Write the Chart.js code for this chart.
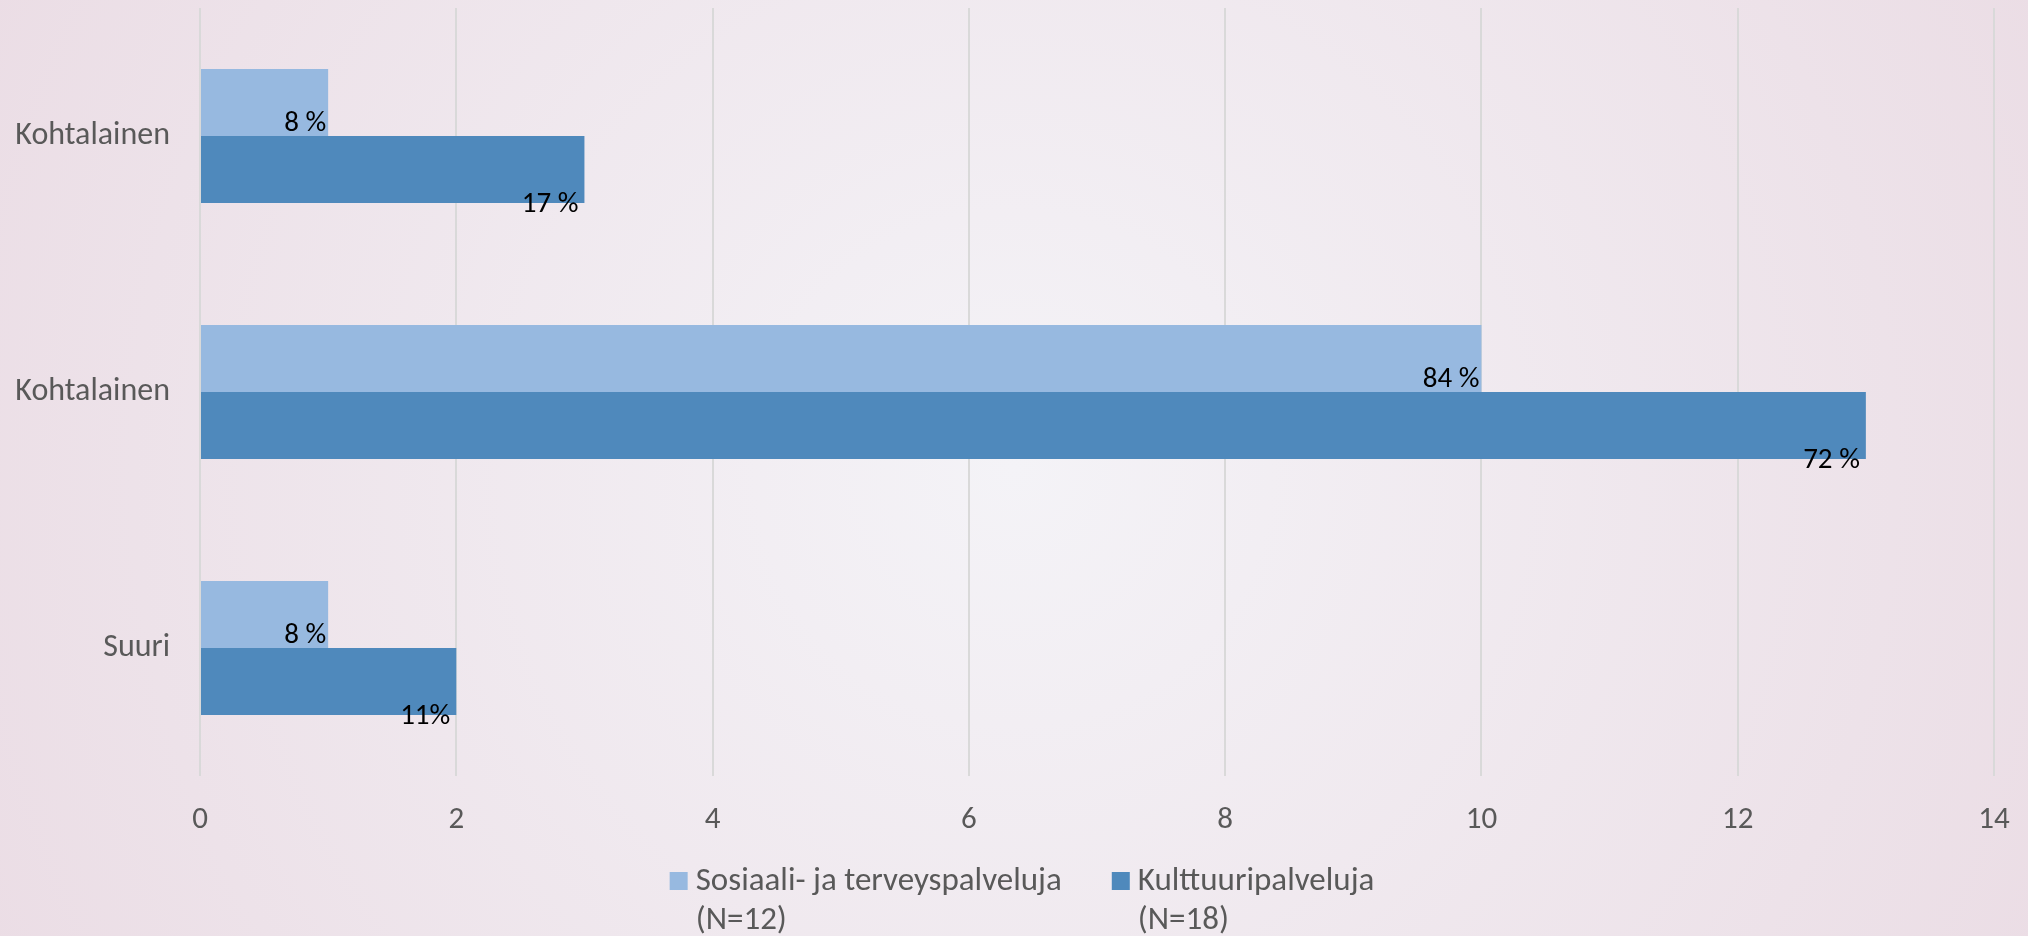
<!DOCTYPE html>
<html>
<head>
<meta charset="utf-8">
<style>
  html, body { margin: 0; padding: 0; background: #efe6ec; }
  #wrap { width: 2028px; height: 936px; position: relative; }
  canvas { display: block; }
</style>
<script src="https://cdn.jsdelivr.net/npm/chart.js@4/dist/chart.umd.min.js"></script>
</head>
<body>
<div id="wrap"><canvas id="c" width="2028" height="936"></canvas></div>
<script>
const categories = ["Kohtalainen", "Kohtalainen", "Suuri"];
const seriesNames = [["Sosiaali- ja terveyspalveluja", "(N=12)"], ["Kulttuuripalveluja", "(N=18)"]];
const sosiaaliValues = [1, 10, 1];
const kulttuuriValues = [3, 13, 2];
const sosiaaliLabels = ["8 %", "84 %", "8 %"];
const kulttuuriLabels = ["17 %", "72 %", "11%"];
const xTicks = [0, 2, 4, 6, 8, 10, 12, 14];

const FONT = "Carlito, Lato, 'Liberation Sans', sans-serif";
const colors = ["#97b9e0", "#4f89bc"];

const bgPlugin = {
  id: 'bg',
  beforeDraw(chart) {
    const { ctx, width, height } = chart;
    ctx.save();
    const g = ctx.createRadialGradient(width / 2, height / 2, 0, width / 2, height / 2, width * 0.56);
    g.addColorStop(0, '#f4f3f7');
    g.addColorStop(1, '#ebdde5');
    ctx.fillStyle = g;
    ctx.fillRect(0, 0, width, height);
    ctx.restore();
  }
};

const dataLabelPlugin = {
  id: 'dlabels',
  afterDatasetsDraw(chart) {
    const { ctx } = chart;
    const allLabels = [sosiaaliLabels, kulttuuriLabels];
    ctx.save();
    ctx.font = "29px " + FONT;
    ctx.fillStyle = '#000000';
    ctx.textAlign = 'right';
    ctx.textBaseline = 'middle';
    chart.data.datasets.forEach((ds, di) => {
      const meta = chart.getDatasetMeta(di);
      meta.data.forEach((bar, i) => {
        const bottom = bar.y + bar.height / 2;
        if (di === 0) {
          ctx.fillText(allLabels[di][i], bar.x - 2, bottom - 12);
        } else {
          ctx.fillText(allLabels[di][i], bar.x - 6, bottom + 2);
        }
      });
    });
    ctx.restore();
  }
};

const legendPlugin = {
  id: 'customLegend',
  afterDraw(chart) {
    const { ctx, width } = chart;
    ctx.save();
    ctx.font = "33px " + FONT;
    const box = 18, gapBox = 8, gapItem = 50;
    const widths = seriesNames.map(lines => box + gapBox + Math.max(...lines.map(l => ctx.measureText(l).width)));
    const total = widths.reduce((a, b) => a + b, 0) + gapItem * (widths.length - 1);
    let x = width / 2 + 8 - total / 2;
    const y1 = 882, y2 = 921;
    seriesNames.forEach((lines, i) => {
      ctx.fillStyle = colors[i];
      ctx.fillRect(x, y1 - 10, box, box);
      ctx.fillStyle = '#595959';
      ctx.textAlign = 'left';
      ctx.textBaseline = 'middle';
      lines.forEach((l, li) => ctx.fillText(l, x + box + gapBox, li === 0 ? y1 : y2));
      x += widths[i] + gapItem;
    });
    ctx.restore();
  }
};

new Chart(document.getElementById('c'), {
  type: 'bar',
  data: {
    labels: categories,
    datasets: [
      { label: seriesNames[0].join(' '), data: sosiaaliValues, backgroundColor: colors[0], barPercentage: 1, categoryPercentage: 0.523 },
      { label: seriesNames[1].join(' '), data: kulttuuriValues, backgroundColor: colors[1], barPercentage: 1, categoryPercentage: 0.523 }
    ]
  },
  options: {
    indexAxis: 'y',
    responsive: false,
    animation: false,
    devicePixelRatio: 1,
    layout: { padding: { left: 0, right: 34, top: 8, bottom: 0 } },
    plugins: { legend: { display: false }, tooltip: { enabled: false } },
    scales: {
      x: {
        min: 0, max: 14,
        afterBuildTicks(scale) { scale.ticks = xTicks.map(v => ({ value: v })); },
        afterFit(scale) { scale.height = 160; scale.paddingTop = 0; scale.paddingBottom = 0; scale.paddingLeft = 0; scale.paddingRight = 0; },
        grid: { color: '#d9d9d9', lineWidth: 2, drawTicks: false },
        border: { display: false },
        ticks: { color: '#595959', font: { size: 31, family: FONT }, padding: 26, maxRotation: 0 }
      },
      y: {
        afterFit(scale) { scale.width = 200; scale.paddingTop = 0; scale.paddingBottom = 0; },
        grid: { display: false, drawTicks: false },
        border: { display: false },
        ticks: { color: '#595959', font: { size: 32, family: FONT }, padding: 30 }
      }
    }
  },
  plugins: [bgPlugin, dataLabelPlugin, legendPlugin]
});
</script>
</body>
</html>
